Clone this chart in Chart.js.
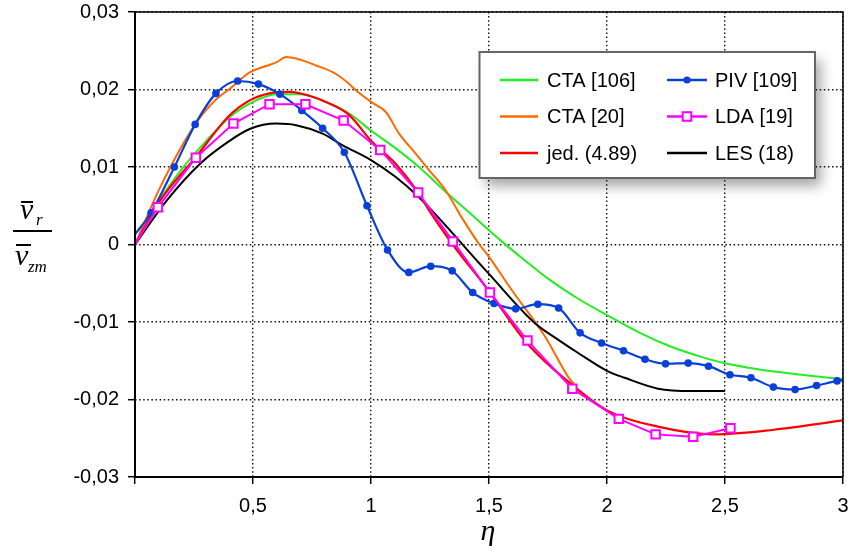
<!DOCTYPE html>
<html>
<head>
<meta charset="utf-8">
<title>vr / vzm</title>
<script src="https://cdn.jsdelivr.net/npm/chart.js@4.4.1/dist/chart.umd.min.js"></script>
<style>
  body { margin: 0; background: #fff; }
  #wrap { width: 851px; height: 554px; }
</style>
</head>
<body>
<div id="wrap"><canvas id="chart" width="851" height="554"></canvas></div>
<script>
// ---- data (eta, vr/vzm)
const xTicks = [0, 0.5, 1, 1.5, 2, 2.5, 3];
const xTickLabels = ['', '0,5', '1', '1,5', '2', '2,5', '3'];
const yTicks = [-0.03, -0.02, -0.01, 0, 0.01, 0.02, 0.03];
const yTickLabels = ['-0,03', '-0,02', '-0,01', '0', '0,01', '0,02', '0,03'];

const cta106Eta = [0, 0.1, 0.2, 0.3, 0.4, 0.5, 0.6, 0.7, 0.824, 0.908, 1.0, 1.105, 1.203, 1.316, 1.443, 1.55, 1.65, 1.75, 1.878, 2.0, 2.146, 2.272, 2.4, 2.496, 2.6, 2.708, 2.85, 3.0];
const cta106Val = [0, 0.0055, 0.0098, 0.0133, 0.0164, 0.0184, 0.0194, 0.0194, 0.0182, 0.0169, 0.0147, 0.0124, 0.0100, 0.0068, 0.0034, 0.0005, -0.0020, -0.0044, -0.0070, -0.0091, -0.0115, -0.0132, -0.0145, -0.0153, -0.0159, -0.0164, -0.0169, -0.0174];

const cta20Eta = [0, 0.107, 0.255, 0.343, 0.402, 0.486, 0.542, 0.599, 0.641, 0.683, 0.768, 0.852, 0.908, 0.936, 1.0, 1.063, 1.119, 1.19, 1.246, 1.316, 1.386, 1.457, 1.5, 1.597, 1.738, 1.836, 1.86];
const cta20Val = [0, 0.0074, 0.0155, 0.0187, 0.0201, 0.0222, 0.0229, 0.0235, 0.0242, 0.0240, 0.0231, 0.0220, 0.0207, 0.0199, 0.0184, 0.0171, 0.0143, 0.0117, 0.0096, 0.0070, 0.0034, 0.0001, -0.0016, -0.0059, -0.0119, -0.0171, -0.0180];

const jedEta = [0, 0.107, 0.258, 0.402, 0.486, 0.57, 0.655, 0.739, 0.824, 0.908, 1.0, 1.105, 1.2, 1.246, 1.344, 1.497, 1.663, 1.836, 2.0, 2.216, 2.455, 2.708, 3.0];
const jedVal = [0, 0.0057, 0.0113, 0.0167, 0.0186, 0.0195, 0.0197, 0.0192, 0.0182, 0.0167, 0.0134, 0.0104, 0.0067, 0.0044, 0.0001, -0.0059, -0.0128, -0.0177, -0.0214, -0.0235, -0.0245, -0.0239, -0.0227];

const pivEta = [0, 0.068, 0.167, 0.255, 0.343, 0.435, 0.523, 0.614, 0.707, 0.795, 0.887, 0.983, 1.070, 1.160, 1.253, 1.344, 1.431, 1.521, 1.613, 1.707, 1.795, 1.886, 1.977, 2.070, 2.161, 2.248, 2.344, 2.430, 2.521, 2.610, 2.705, 2.797, 2.888, 2.975, 3.0];
const pivVal = [0.0013, 0.0041, 0.0100, 0.0155, 0.0195, 0.0211, 0.0207, 0.0194, 0.0173, 0.0150, 0.0119, 0.0050, -0.0007, -0.0036, -0.0028, -0.0034, -0.0062, -0.0076, -0.0083, -0.0077, -0.0082, -0.0114, -0.0127, -0.0137, -0.0148, -0.0154, -0.0153, -0.0157, -0.0168, -0.0172, -0.0184, -0.0187, -0.0182, -0.0176, -0.0175];

const ldaEta = [0, 0.097, 0.258, 0.417, 0.570, 0.722, 0.884, 1.039, 1.200, 1.347, 1.504, 1.663, 1.853, 2.050, 2.206, 2.365, 2.523];
const ldaVal = [0, 0.0048, 0.0112, 0.0156, 0.0181, 0.0181, 0.0160, 0.0122, 0.0067, 0.0004, -0.0062, -0.0124, -0.0186, -0.0225, -0.0245, -0.0248, -0.0237];

const lesEta = [0, 0.135, 0.275, 0.402, 0.486, 0.599, 0.683, 0.795, 0.88, 1.0, 1.105, 1.203, 1.288, 1.347, 1.497, 1.696, 1.794, 1.878, 2.0, 2.075, 2.216, 2.357, 2.5];
const lesVal = [0, 0.0057, 0.0104, 0.0134, 0.0149, 0.0156, 0.0154, 0.0143, 0.0128, 0.0109, 0.0087, 0.0061, 0.0034, 0.0014, -0.0037, -0.0102, -0.0123, -0.0140, -0.0163, -0.0172, -0.0186, -0.0189, -0.0189];

const legendColumns = [['CTA [106]', 'CTA [20]', 'jed. (4.89)'], ['PIV [109]', 'LDA [19]', 'LES (18)']];

const sansFont = '"Liberation Sans", Arial, sans-serif';
const serifFont = '"Liberation Serif", "Times New Roman", serif';

function pts(xs, ys) {
    return xs.map((x, i) => ({ x: x, y: ys[i] }));
}
// no marker on the end points that are only there for the line
function radii(xs, r, skipFirst, skipLast) {
    return xs.map((x, i) => ((skipFirst && i === 0) || (skipLast && i === xs.length - 1)) ? 0 : r);
}

// index 0 is painted on top
const datasets = [
    { label: 'LDA [19]', data: pts(ldaEta, ldaVal), borderColor: '#ff00ff', backgroundColor: '#ffffff',
      borderWidth: 2, pointStyle: 'rect', pointRadius: radii(ldaEta, 6, true, false), pointBorderWidth: 2, tension: 0 },
    { label: 'PIV [109]', data: pts(pivEta, pivVal), borderColor: '#0a3fd8', backgroundColor: '#0a3fd8',
      borderWidth: 2.2, pointStyle: 'circle', pointRadius: radii(pivEta, 3.8, true, true), pointBorderWidth: 0,
      cubicInterpolationMode: 'monotone' },
    { label: 'jed. (4.89)', data: pts(jedEta, jedVal), borderColor: '#ff0000', borderWidth: 2.2, pointRadius: 0,
      cubicInterpolationMode: 'monotone' },
    { label: 'LES (18)', data: pts(lesEta, lesVal), borderColor: '#000000', borderWidth: 2, pointRadius: 0,
      cubicInterpolationMode: 'monotone' },
    { label: 'CTA [20]', data: pts(cta20Eta, cta20Val), borderColor: '#ff6a00', borderWidth: 2, pointRadius: 0,
      cubicInterpolationMode: 'monotone' },
    { label: 'CTA [106]', data: pts(cta106Eta, cta106Val), borderColor: '#22ee22', borderWidth: 2, pointRadius: 0,
      cubicInterpolationMode: 'monotone' }
];

// ************** frame, legend box and axis titles
const decor = {
    id: 'decor',
    afterDraw(chart) {
        const ctx = chart.ctx;
        const a = chart.chartArea;
        ctx.save();

        // frame
        ctx.strokeStyle = '#000';
        ctx.lineWidth = 1.5;
        ctx.beginPath();
        ctx.moveTo(a.left, a.top); ctx.lineTo(a.right, a.top); ctx.lineTo(a.right, a.bottom);
        ctx.stroke();
        ctx.lineWidth = 2;
        ctx.beginPath();
        ctx.moveTo(a.left, a.top); ctx.lineTo(a.left, a.bottom); ctx.lineTo(a.right, a.bottom);
        ctx.stroke();

        // legend box with shadow
        const bx = 479.5, by = 52, bw = 335.5, bh = 126;
        ctx.save();
        ctx.shadowColor = 'rgba(0,0,0,0.35)';
        ctx.shadowBlur = 12;
        ctx.shadowOffsetX = 6;
        ctx.shadowOffsetY = 8;
        ctx.fillStyle = '#fff';
        ctx.fillRect(bx, by, bw, bh);
        ctx.restore();
        ctx.strokeStyle = '#666';
        ctx.lineWidth = 2;
        ctx.strokeRect(bx, by, bw, bh);

        const rowsY = [80, 116.5, 153];
        const cols = [{ x0: 500, x1: 538, tx: 547 }, { x0: 667, x1: 707, tx: 715 }];
        ctx.font = '20px ' + sansFont;
        ctx.textBaseline = 'middle';
        ctx.textAlign = 'left';
        legendColumns.forEach((labels, c) => {
            labels.forEach((label, r) => {
                const ds = chart.data.datasets.find(d => d.label === label);
                const y = rowsY[r];
                const col = cols[c];
                ctx.strokeStyle = ds.borderColor;
                ctx.lineWidth = 2.5;
                ctx.beginPath();
                ctx.moveTo(col.x0, y); ctx.lineTo(col.x1, y);
                ctx.stroke();
                const mx = (col.x0 + col.x1) / 2;
                if (ds.pointStyle === 'circle') {
                    ctx.fillStyle = ds.backgroundColor;
                    ctx.beginPath();
                    ctx.arc(mx, y, 3.6, 0, Math.PI * 2);
                    ctx.fill();
                } else if (ds.pointStyle === 'rect') {
                    ctx.fillStyle = '#fff';
                    ctx.lineWidth = 2;
                    ctx.fillRect(mx - 4.3, y - 4.3, 8.6, 8.6);
                    ctx.strokeRect(mx - 4.3, y - 4.3, 8.6, 8.6);
                }
                ctx.fillStyle = '#000';
                ctx.fillText(label, col.tx, y + 1);
            });
        });

        // x title
        ctx.fillStyle = '#000';
        ctx.textAlign = 'center';
        ctx.textBaseline = 'alphabetic';
        ctx.font = 'italic 30px ' + serifFont;
        ctx.fillText('η', 488, 540);

        // y title: v_r over v_zm, with bars
        ctx.textAlign = 'left';
        ctx.font = 'italic 30px ' + serifFont;
        ctx.fillText('v', 20, 219);
        ctx.fillText('v', 15, 265);
        ctx.font = 'italic 17px ' + serifFont;
        ctx.fillText('r', 36, 225);
        ctx.fillText('zm', 28, 272);
        ctx.strokeStyle = '#000';
        ctx.lineWidth = 2;
        ctx.beginPath();
        ctx.moveTo(21, 202); ctx.lineTo(33, 202);
        ctx.moveTo(16, 245); ctx.lineTo(31, 245);
        ctx.moveTo(13, 231); ctx.lineTo(52, 231);
        ctx.stroke();

        ctx.restore();
    }
};

const gridStyle = {
    color: '#111',
    lineWidth: 1.4,
    drawTicks: true,
    tickLength: 7,
    tickColor: '#000',
    tickWidth: 1.5,
    tickBorderDash: [10, 0]
};

new Chart(document.getElementById('chart'), {
    type: 'line',
    data: { datasets: datasets },
    options: {
        responsive: false,
        animation: false,
        events: [],
        layout: { padding: { top: 12, right: 2, left: 0, bottom: 0 } },
        plugins: { legend: { display: false }, tooltip: { enabled: false } },
        scales: {
            x: {
                type: 'linear',
                min: 0,
                max: 3,
                afterBuildTicks: scale => { scale.ticks = xTicks.map(v => ({ value: v })); },
                afterFit: scale => {
                    scale.height = 77;
                    scale.paddingLeft = 0;
                    scale.paddingRight = 0;
                },
                ticks: {
                    color: '#000',
                    font: { family: sansFont, size: 20 },
                    padding: 10,
                    maxRotation: 0,
                    autoSkip: false,
                    callback: (v, i) => xTickLabels[i]
                },
                grid: gridStyle,
                border: { display: false, dash: [1.5, 2.6] }
            },
            y: {
                type: 'linear',
                min: -0.03,
                max: 0.03,
                afterBuildTicks: scale => { scale.ticks = yTicks.map(v => ({ value: v })); },
                afterFit: scale => {
                    scale.width = 135;
                    scale.paddingTop = 0;
                    scale.paddingBottom = 0;
                },
                ticks: {
                    color: '#000',
                    font: { family: sansFont, size: 20 },
                    padding: 9,
                    autoSkip: false,
                    callback: (v, i) => yTickLabels[i]
                },
                grid: gridStyle,
                border: { display: false, dash: [1.5, 2.6] }
            }
        }
    },
    plugins: [decor]
});
</script>
</body>
</html>
